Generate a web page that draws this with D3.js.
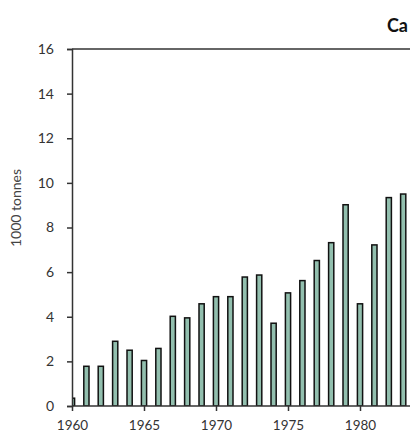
<!DOCTYPE html>
<html>
<head>
<meta charset="utf-8">
<script src="https://cdn.jsdelivr.net/npm/d3@7"></script>
<style>
  html, body { margin: 0; padding: 0; background: #fff; overflow: hidden; }
  svg { display: block; }
</style>
</head>
<body>
<svg id="chart" width="410" height="432"></svg>
<script>
const titleText = "Ca";
const yLabel = "1000 tonnes";
const years = [1960,1961,1962,1963,1964,1965,1966,1967,1968,1969,1970,1971,1972,1973,1974,1975,1976,1977,1978,1979,1980,1981,1982,1983];
const values = [0.35,1.78,1.78,2.9,2.5,2.04,2.58,4.02,3.95,4.58,4.9,4.9,5.78,5.87,3.71,5.07,5.62,6.52,7.32,9.02,4.58,7.22,9.34,9.5];
const xTicks = [1960,1965,1970,1975,1980];
const yTicks = [0,2,4,6,8,10,12,14,16];

const svg = d3.select("#chart");
const plotLeft = 72, plotTop = 49, plotBottom = 406;
const x = d3.scaleLinear().domain([1960, 1983]).range([plotLeft, 403.2]);
const y = d3.scaleLinear().domain([0, 16]).range([plotBottom, plotTop]);
const font = "Lato, 'Open Sans', sans-serif";
const axisColor = "#333";

// clip for bars
svg.append("defs").append("clipPath").attr("id", "plot")
  .append("rect").attr("x", plotLeft).attr("y", plotTop).attr("width", 500).attr("height", plotBottom - plotTop);

const barW = 5.2;
svg.append("g").attr("clip-path", "url(#plot)")
  .selectAll("rect").data(years).join("rect")
  .attr("x", (d) => x(d) - barW / 2)
  .attr("y", (d, i) => y(values[i]))
  .attr("width", barW)
  .attr("height", (d, i) => y(0) - y(values[i]))
  .attr("fill", "#92bfae")
  .attr("stroke", "#111")
  .attr("stroke-width", 1.5);

// top border
svg.append("line").attr("x1", plotLeft).attr("x2", 420).attr("y1", plotTop).attr("y2", plotTop)
  .attr("stroke", axisColor).attr("stroke-width", 1.5);

// y axis
const yAxis = d3.axisLeft(y).tickValues(yTicks).tickSize(5).tickPadding(13);
const gy = svg.append("g").attr("transform", `translate(${plotLeft},0)`).call(yAxis);
gy.select(".domain").attr("stroke", axisColor).attr("stroke-width", 1.5);
gy.selectAll(".tick line").attr("stroke", axisColor).attr("stroke-width", 1.5);
gy.selectAll(".tick text").attr("font-family", font).attr("font-size", 14).attr("fill", "#333");

// x axis
const xAxis = d3.axisBottom(x).tickValues(xTicks).tickFormat(d3.format("d")).tickSize(5).tickPadding(9);
const gx = svg.append("g").attr("transform", `translate(0,${plotBottom})`).call(xAxis);
gx.select(".domain").attr("stroke", axisColor).attr("stroke-width", 1.5).attr("d", `M${plotLeft},0H420`);
gx.selectAll(".tick line").attr("stroke", axisColor).attr("stroke-width", 1.5);
gx.selectAll(".tick text").attr("font-family", font).attr("font-size", 13.5).attr("fill", "#333");

// y label
svg.append("text")
  .attr("transform", "translate(21,208) rotate(-90)")
  .attr("text-anchor", "middle")
  .attr("font-family", font).attr("font-size", 14).attr("fill", "#444")
  .text(yLabel);

// title (as visible in the reference, kept inside the frame)
svg.append("text")
  .attr("x", 408).attr("y", 32)
  .attr("text-anchor", "end")
  .attr("font-family", font).attr("font-size", 18).attr("font-weight", "bold").attr("fill", "#111")
  .text(titleText);
</script>
</body>
</html>
